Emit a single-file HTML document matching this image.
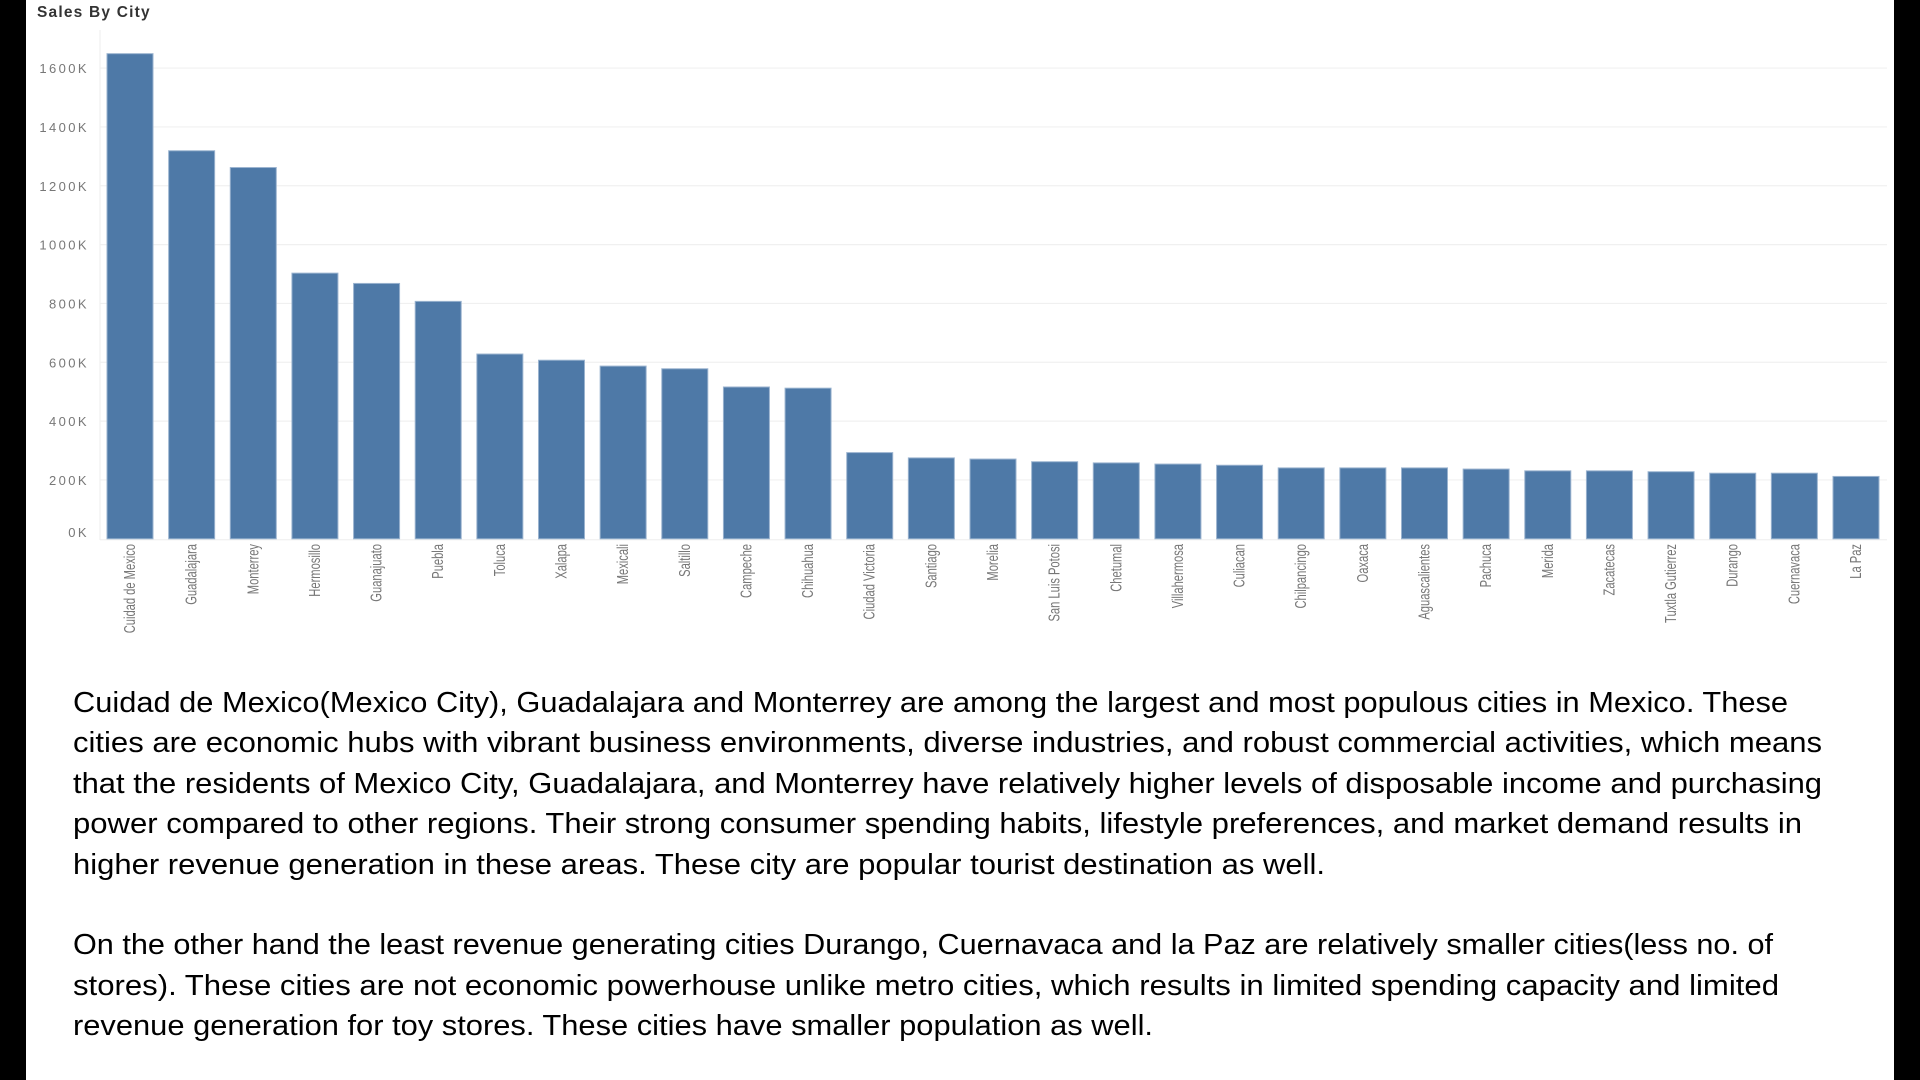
<!DOCTYPE html>
<html><head><meta charset="utf-8">
<style>
html,body{margin:0;padding:0;background:#000;}
#page{position:relative;width:1920px;height:1080px;background:#000;overflow:hidden;}
#panel{position:absolute;left:26px;top:0;width:1868px;height:1080px;background:#fff;}
#chart{position:absolute;left:0;top:0;}
.line{position:absolute;left:73px;white-space:nowrap;font-family:"Liberation Sans",sans-serif;font-size:29px;color:#000;transform-origin:0 50%;line-height:40px;}
</style></head>
<body>
<div id="page">
<div id="panel"></div>
<svg id="chart" width="1920" height="680">
<text x="37" y="17" font-family="Liberation Sans, sans-serif" font-size="15.5" font-weight="bold" fill="#333" letter-spacing="1.2">Sales By City</text>
<line x1="100" y1="30" x2="100" y2="540" stroke="#eee"/>
<g id="grid"></g><g id="bars"></g><g id="ylabels"></g><g id="xlabels"></g>
</svg>
<div id="text"></div>
</div>
<script>
const cities=["Cuidad de Mexico","Guadalajara","Monterrey","Hermosillo","Guanajuato","Puebla","Toluca","Xalapa","Mexicali","Saltillo","Campeche","Chihuahua","Ciudad Victoria","Santiago","Morelia","San Luis Potosi","Chetumal","Villahermosa","Culiacan","Chilpancingo","Oaxaca","Aguascalientes","Pachuca","Merida","Zacatecas","Tuxtla Gutierrez","Durango","Cuernavaca","La Paz"];
const sales=[1649,1319,1262,903,868,807,628,607,587,578,516,512,293,275,271,262,258,254,250,241,241,241,237,231,231,228,223,223,212];
const yTicks=[0,200,400,600,800,1000,1200,1400,1600];
const yTickLabels=["0K","200K","400K","600K","800K","1000K","1200K","1400K","1600K"];
const NS="http://www.w3.org/2000/svg";
const y0=538.8,perUnit=58.84/200;
function yScale(v){return y0-v*perUnit;}
const x0=107,x1=1833;
function xScale(i){return x0+i*(x1-x0)/(cities.length-1);}
const bw=46;
function mk(tag,attrs,parent){const e=document.createElementNS(NS,tag);for(const k in attrs)e.setAttribute(k,attrs[k]);parent.appendChild(e);return e;}
const grid=document.getElementById('grid'),bars=document.getElementById('bars'),yl=document.getElementById('ylabels'),xl=document.getElementById('xlabels');
yTicks.forEach((t,i)=>{
  const y=yScale(t);
  if(t>0){const g=mk('line',{x1:100,x2:1887,y1:y,y2:y,stroke:'#f0f0f0','stroke-width':1.2},grid);
  
  }
  const lab=mk('text',{x:89,y:(t===0?y-2:y+5),'text-anchor':'end','font-family':'Liberation Sans, sans-serif','font-size':13,'letter-spacing':2.4,fill:'#777'},yl);
  lab.textContent=yTickLabels[i];
  
  
});
const base=mk('line',{x1:100,x2:1887,y1:y0+1,y2:y0+1,stroke:'#eee'},grid);


cities.forEach((c,i)=>{
  const x=xScale(i),y=yScale(sales[i]);
  const r=mk('rect',{x:x,y:y,width:bw,height:y0-y,fill:'#4e79a7',stroke:'#9ab3cf','stroke-width':1},bars);
  
  
  const cx=x+bw/2+5;
  const t=mk('text',{x:0,y:0,transform:`translate(${cx},544) rotate(-90) scale(0.72,1)`,'text-anchor':'end','font-family':'Liberation Sans Narrow, Liberation Sans, sans-serif','font-size':15.5,fill:'#777'},xl);
  t.textContent=c;
  
  
});
const lines=[
["Cuidad de Mexico(Mexico City), Guadalajara and Monterrey are among the largest and most populous cities in Mexico. These",703,1788],
["cities are economic hubs with vibrant business environments, diverse industries, and robust commercial activities, which means",743,1822],
["that the residents of Mexico City, Guadalajara, and Monterrey have relatively higher levels of disposable income and purchasing",784,1822],
["power compared to other regions. Their strong consumer spending habits, lifestyle preferences, and market demand results in",824,1802],
["higher revenue generation in these areas. These city are popular tourist destination as well.",865,1325],
["On the other hand the least revenue generating cities Durango, Cuernavaca and la Paz are relatively smaller cities(less no. of",945,1773],
["stores). These cities are not economic powerhouse unlike metro cities, which results in limited spending capacity and limited",986,1779],
["revenue generation for toy stores. These cities have smaller population as well.",1026,1153]];
const tx=document.getElementById('text');
lines.forEach(l=>{
  const d=document.createElement('div');
  d.className='line';
  
  
  d.textContent=l[0];
  d.style.top=(l[1]-20)+'px';
  tx.appendChild(d);
  const w=d.getBoundingClientRect().width;
  d.style.transform='scaleX('+((l[2]-73)/w)+')';
});
</script>
</body></html>
